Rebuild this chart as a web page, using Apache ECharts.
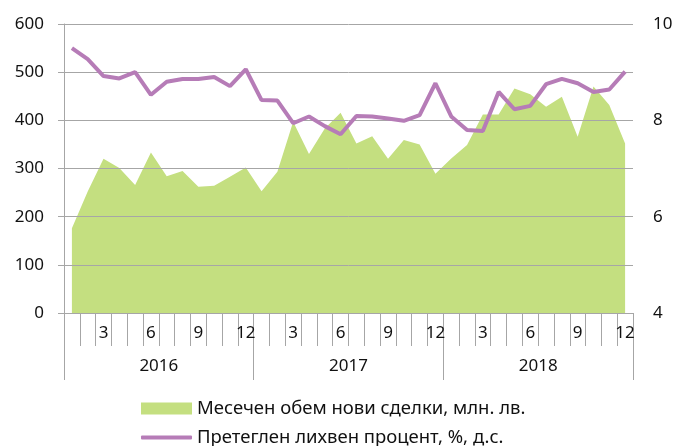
<!DOCTYPE html>
<html>
<head>
<meta charset="utf-8">
<script src="https://cdn.jsdelivr.net/npm/echarts@6/dist/echarts.min.js"></script>
<style>
  html, body { margin: 0; padding: 0; background: #fff; }
  #chart { width: 676px; height: 446px; }
</style>
</head>
<body>
<div id="chart"></div>
<script>
// месеци 2016-2018
const months = []
for (let y = 0; y < 3; y++) for (let m = 1; m <= 12; m++) months.push(String(m))
const years = ['2016', '2017', '2018']

// месечен обем нови сделки, млн. лв.
const volume = [
  176, 252, 320, 301, 266, 333, 284, 295, 262, 264, 283, 302,
  253, 293, 397, 330, 383, 416, 352, 367, 320, 359, 350, 289,
  321, 349, 412, 412, 466, 454, 428, 449, 366, 470, 432, 352
]
// претеглен лихвен процент, %
const rate = [
  9.50, 9.27, 8.92, 8.87, 9.00, 8.53, 8.80, 8.86, 8.86, 8.90, 8.71, 9.06,
  8.42, 8.41, 7.94, 8.08, 7.88, 7.71, 8.09, 8.08, 8.04, 7.99, 8.11, 8.77,
  8.08, 7.80, 7.78, 8.59, 8.23, 8.30, 8.75, 8.86, 8.77, 8.59, 8.64, 9.01
]

const volumeName = 'Месечен обем нови сделки, млн. лв.'
const rateName = 'Претеглен лихвен процент, %, д.с.'

const font = 'Noto Sans'
const gray = '#a6a6a6'
const green = '#c4df80'
const purple = '#b67cb7'

const chart = echarts.init(document.getElementById('chart'))
chart.setOption({
  animation: false,
  textStyle: { fontFamily: font },
  grid: { left: 64, right: 43, top: 24, bottom: 133 },
  legend: [
    {
      data: [{ name: volumeName, icon: 'rect' }],
      left: 141, top: 399, padding: 0,
      itemWidth: 51, itemHeight: 12,
      textStyle: { fontSize: 18.5, color: '#111', fontFamily: font },
    },
    {
      data: [{ name: rateName, icon: 'roundRect' }],
      left: 141, top: 428, padding: 0,
      itemWidth: 51, itemHeight: 4,
      textStyle: { fontSize: 18.5, color: '#111', fontFamily: font },
    },
  ],
  xAxis: [
    {
      type: 'category',
      data: months,
      boundaryGap: true,
      z: 4,
      axisLine: { show: true, lineStyle: { color: gray } },
      axisTick: { show: true, interval: 0, length: 33, lineStyle: { color: gray } },
      axisLabel: {
        interval: 0, margin: 12, fontSize: 17, color: '#111',
        formatter: v => (Number(v) % 3 === 0 ? v : ''),
      },
    },
    {
      type: 'category',
      data: years,
      position: 'bottom',
      boundaryGap: true,
      axisLine: { show: false },
      axisTick: { show: true, interval: 0, length: 67, lineStyle: { color: gray } },
      axisLabel: { margin: 45, fontSize: 17, color: '#111' },
    },
  ],
  yAxis: [
    {
      type: 'value',
      min: 0, max: 600, interval: 100,
      z: 3,
      axisLine: { show: true, lineStyle: { color: gray } },
      axisTick: { show: true, length: 6, lineStyle: { color: gray } },
      splitLine: { lineStyle: { color: gray } },
      axisLabel: { margin: 20, fontSize: 17, color: '#111' },
    },
    {
      type: 'value',
      min: 4, max: 10, interval: 2,
      axisLine: { show: false },
      axisTick: { show: false },
      splitLine: { show: false },
      axisLabel: { margin: 20, fontSize: 17, color: '#111' },
    },
  ],
  series: [
    {
      name: volumeName,
      type: 'line',
      data: volume,
      xAxisIndex: 0, yAxisIndex: 0,
      symbol: 'none',
      z: 2,
      itemStyle: { color: green },
      lineStyle: { width: 0, color: green },
      areaStyle: { color: green, opacity: 1 },
    },
    {
      name: rateName,
      type: 'line',
      data: rate,
      xAxisIndex: 0, yAxisIndex: 1,
      symbol: 'none',
      z: 5,
      itemStyle: { color: purple },
      lineStyle: { width: 4, color: purple },
    },
  ],
})
</script>
</body>
</html>
